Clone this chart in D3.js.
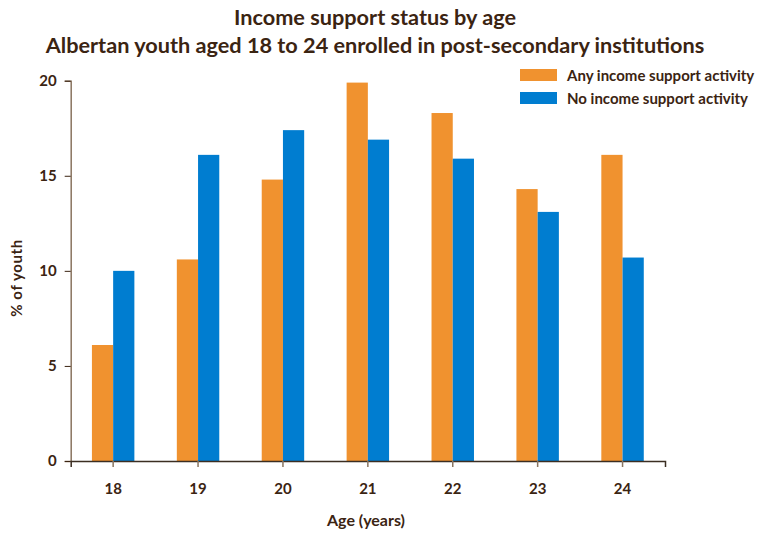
<!DOCTYPE html>
<html>
<head>
<meta charset="utf-8">
<script src="https://cdn.jsdelivr.net/npm/d3@7/dist/d3.min.js"></script>
<style>
  html, body { margin: 0; padding: 0; background: #fff; }
  svg text { font-family: Lato, "Open Sans", "Liberation Sans", sans-serif; font-weight: bold; fill: #3b2412; }
</style>
</head>
<body>
<svg id="chart" width="759" height="534"></svg>
<script>
const categories = ["18", "19", "20", "21", "22", "23", "24"];
const seriesNames = ["Any income support activity", "No income support activity"];
const anySupport = [6.1, 10.6, 14.8, 19.9, 18.3, 14.3, 16.1];
const noSupport = [10.0, 16.1, 17.4, 16.9, 15.9, 13.1, 10.7];
const yTicks = [0, 5, 10, 15, 20];
const colors = ["#F0922F", "#007DD0"];

const svg = d3.select("#chart");
const margin = { left: 70.7, right: 665, top: 80.7, bottom: 461 };

const x = d3.scaleBand().domain(categories).range([margin.left, margin.right])
  .paddingInner(0.5).paddingOuter(0.25);
const xSub = d3.scaleBand().domain(seriesNames).range([0, x.bandwidth()]);
const y = d3.scaleLinear().domain([0, 20]).range([margin.bottom, margin.top]);

const rows = categories.map((c, i) => ({ cat: c, vals: [anySupport[i], noSupport[i]] }));

// bars
const g = svg.append("g");
rows.forEach(r => {
  r.vals.forEach((v, j) => {
    g.append("rect")
      .attr("x", x(r.cat) + xSub(seriesNames[j]))
      .attr("y", y(v))
      .attr("width", xSub.bandwidth())
      .attr("height", y(0) - y(v))
      .attr("fill", colors[j]);
  });
});

// y axis
const yAxis = d3.axisLeft(y).tickValues(yTicks).tickSizeOuter(0).tickSize(6).tickPadding(8);
const yg = svg.append("g").attr("transform", `translate(${margin.left},0)`).call(yAxis);
yg.select(".domain").attr("stroke", "#8a7560").attr("stroke-width", 1.5);
yg.selectAll(".tick line").attr("stroke", "#3b2412");
yg.selectAll("text").style("font-size", "15px");

// x axis
const xAxis = d3.axisBottom(x).tickSizeOuter(0).tickSize(6).tickPadding(16);
const xg = svg.append("g").attr("transform", `translate(0,${margin.bottom})`).call(xAxis);
xg.select(".domain").attr("stroke", "#3b2e22").attr("stroke-width", 1.5);
xg.selectAll(".tick line").attr("stroke", "#8a7560").attr("stroke-width", 1.5);
xg.selectAll("text").style("font-size", "15px");

// titles
svg.append("text").attr("x", 375).attr("y", 25).attr("text-anchor", "middle")
  .style("font-size", "21.7px").text("Income support status by age");
svg.append("text").attr("x", 375).attr("y", 53).attr("text-anchor", "middle")
  .style("font-size", "21.7px").text("Albertan youth aged 18 to 24 enrolled in post-secondary institutions");

// axis labels
svg.append("text").attr("transform", "translate(22,278) rotate(-90)").attr("text-anchor", "middle")
  .style("font-size", "15px").style("letter-spacing", "0.6px").attr("xml:space", "preserve")
  .text("% of youth");
svg.append("text").attr("x", 366).attr("y", 526).attr("text-anchor", "middle")
  .style("font-size", "16px").text("Age (years)");

// legend
const leg = svg.append("g");
seriesNames.forEach((s, i) => {
  const ly = 69 + i * 23;
  leg.append("rect").attr("x", 520).attr("y", ly).attr("width", 37).attr("height", 12).attr("fill", colors[i]);
  leg.append("text").attr("x", 567).attr("y", ly + 11.5).style("font-size", "15px").text(s);
});
</script>
</body>
</html>
